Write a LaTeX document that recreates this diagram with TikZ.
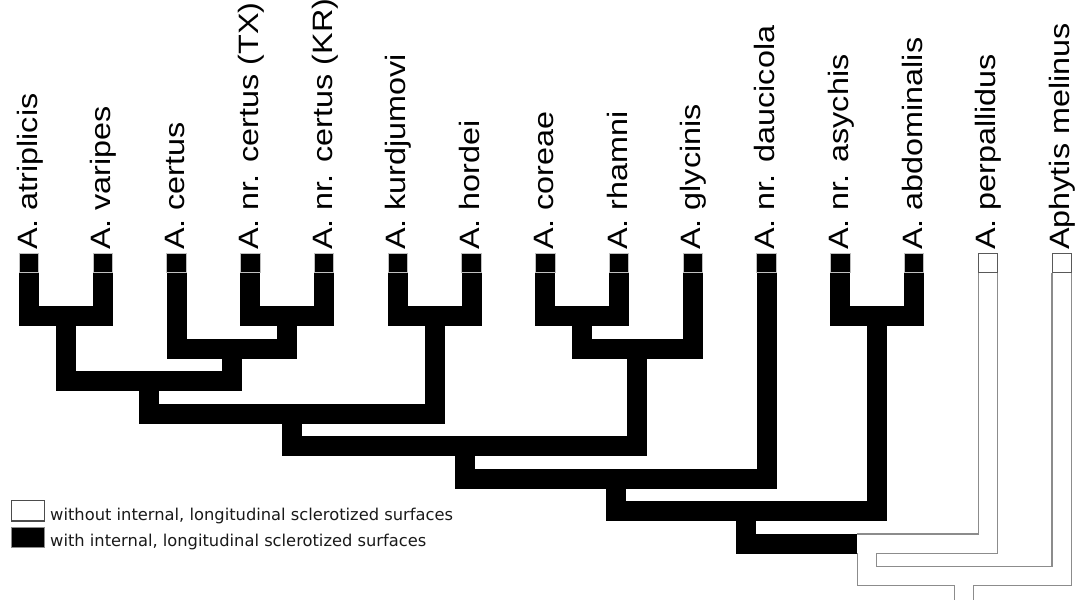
\documentclass[tikz,border=0pt]{standalone}
\usepackage{fontspec}
\setmainfont{Liberation Sans}
\newfontfamily\legendfont{DejaVu Sans}
\usetikzlibrary{calc}
% internal node of the cladogram: halfway between two children, at bar level #3
\newcommand\cladenode[4]{\path let \p1=($(#1)!.5!(#2)$) in (\x1,-#3pt) coordinate (#4);}
\begin{document}
\begin{tikzpicture}[x=1pt,y=-1pt,
  leafblk/.style={rectangle,inner sep=0pt,minimum width=19.5pt,minimum height=19.5pt,fill=black,draw=black!25,line width=.6pt},
  leafwht/.style={rectangle,inner sep=0pt,minimum width=19pt,minimum height=19pt,fill=white,draw=black!65,line width=1pt},
  taxon/.style={rotate=90,anchor=base west,inner sep=0pt,font=\fontsize{28}{30}\selectfont},
  blk/.style={draw=black,line width=20pt},
  wout/.style={draw=black!45,line width=20.4pt},
  win/.style={draw=white,line width=18pt},
  legtext/.style={anchor=base west,inner sep=0pt,font=\legendfont\fontsize{16.3}{18}\selectfont,text=black!90}
]
\useasboundingbox (0,0) rectangle (1079,600);
\newcommand\lab[1]{\scalebox{1.155}[1]{#1}}

% terminal taxa: state boxes and names
\node[leafblk] (l1)  at (29,263)     {};
\node[leafblk] (l2)  at (102.75,263) {};
\node[leafblk] (l3)  at (176.5,263)  {};
\node[leafblk] (l4)  at (250.25,263) {};
\node[leafblk] (l5)  at (324,263)    {};
\node[leafblk] (l6)  at (397.75,263) {};
\node[leafblk] (l7)  at (471.5,263)  {};
\node[leafblk] (l8)  at (545.25,263) {};
\node[leafblk] (l9)  at (619,263)    {};
\node[leafblk] (l10) at (692.75,263) {};
\node[leafblk] (l11) at (766.5,263)  {};
\node[leafblk] (l12) at (840.25,263) {};
\node[leafblk] (l13) at (914,263)    {};
\node[leafwht] (l14) at (987.75,263) {};
\node[leafwht] (l15) at (1061.5,263) {};

\node[taxon] (t1)  at (37,250)      {\lab{A. atriplicis}};
\node[taxon] (t2)  at (110.75,250)  {\lab{A. varipes}};
\node[taxon] (t3)  at (184.5,250)   {\lab{A. certus}};
\node[taxon] (t4)  at (258.25,250)  {\lab{A. nr. certus (TX)}};
\node[taxon] (t5)  at (332,250)     {\lab{A. nr. certus (KR)}};
\node[taxon] (t6)  at (405.75,250)  {\lab{A. kurdjumovi}};
\node[taxon] (t7)  at (479.5,250)   {\lab{A. hordei}};
\node[taxon] (t8)  at (553.25,250)  {\lab{A. coreae}};
\node[taxon] (t9)  at (627,250)     {\lab{A. rhamni}};
\node[taxon] (t10) at (700.75,250)  {\lab{A. glycinis}};
\node[taxon] (t11) at (774.5,250)   {\lab{A. nr. daucicola}};
\node[taxon] (t12) at (848.25,250)  {\lab{A. nr. asychis}};
\node[taxon] (t13) at (922,250)     {\lab{A. abdominalis}};
\node[taxon] (t14) at (995.75,250)  {\lab{A. perpallidus}};
\node[taxon] (t15) at (1069.5,250)  {\lab{Aphytis melinus}};

% internal nodes
\cladenode{l1}{l2}{316}{n12}
\cladenode{l4}{l5}{316}{n45}
\cladenode{l3}{n45}{348.5}{n345}
\cladenode{n12}{n345}{381}{n15}
\cladenode{l6}{l7}{316}{n67}
\cladenode{n15}{n67}{413.5}{n17}
\cladenode{l8}{l9}{316}{n89}
\cladenode{n89}{l10}{348.5}{n810}
\cladenode{n17}{n810}{446}{n110}
\cladenode{n110}{l11}{478.5}{n111}
\cladenode{l12}{l13}{316}{n1213}
\cladenode{n111}{n1213}{511}{n113}
\cladenode{n113}{l14}{543.5}{n114}
\cladenode{n114}{l15}{576}{root}
\coordinate (bottom) at (0,600);
\coordinate (base) at (root |- bottom);

% branches with internal sclerotized surfaces
\foreach \p/\c in {n12/l1.south, n12/l2.south, n45/l4.south, n45/l5.south,
                   n345/l3.south, n345/n45, n15/n12, n15/n345,
                   n67/l6.south, n67/l7.south, n17/n15, n17/n67,
                   n89/l8.south, n89/l9.south, n810/n89, n810/l10.south,
                   n110/n17, n110/n810, n111/n110, n111/l11.south,
                   n1213/l12.south, n1213/l13.south, n113/n111, n113/n1213}
  \draw[blk] (\p) -| (\c);
\draw[blk] ([xshift=-10pt]n114) -| (n113);

% branches without them: outline first, then the white inside
\foreach \s in {wout, win} {
  \draw[\s] ([xshift=-10pt]n114) -| (l14.south);
  \draw[\s] (root) -| (n114);
  \draw[\s] (root) -| (l15.south);
  \draw[\s] (root) -- (base);
}

% legend
\node[rectangle,inner sep=0pt,minimum width=33pt,minimum height=20.5pt,fill=white,draw=black!70,line width=1.2pt] (kw) at (28,510.8) {};
\node[rectangle,inner sep=0pt,minimum width=33pt,minimum height=20.5pt,fill=black,draw=black!45,line width=.8pt] (kb) at (28,537.5) {};
\node[legtext] (kwt) at (50,520) {without internal, longitudinal sclerotized surfaces};
\node[legtext] (kbt) at (50,546) {with internal, longitudinal sclerotized surfaces};
\end{tikzpicture}
\end{document}
